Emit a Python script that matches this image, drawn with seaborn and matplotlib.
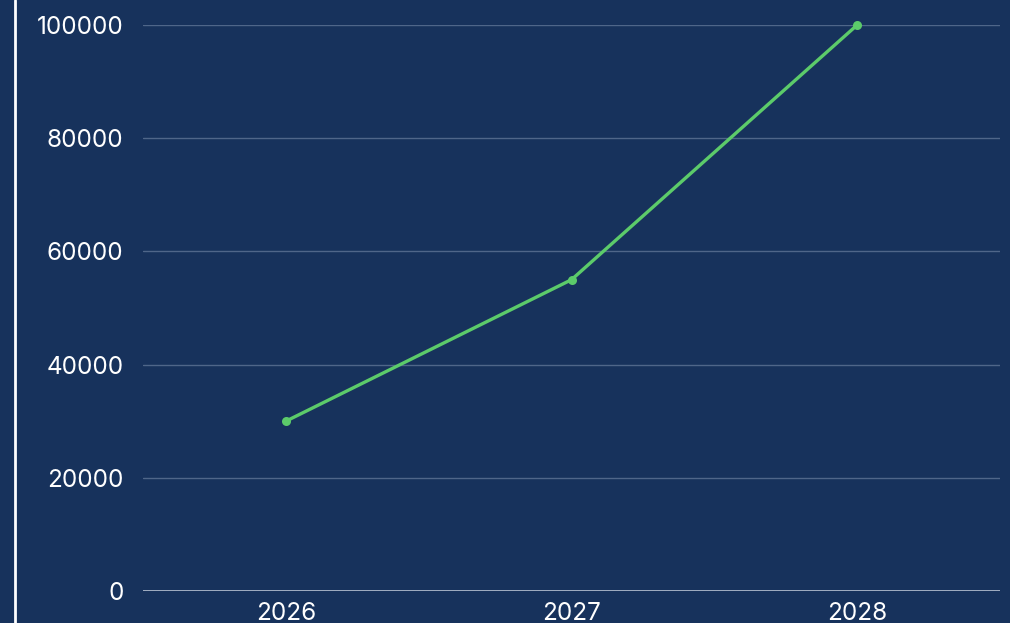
import matplotlib
matplotlib.use("Agg")
import matplotlib.pyplot as plt
from matplotlib.lines import Line2D
import seaborn as sns
import pandas as pd

## data ----------------------------------------------------------------
years = ["2026", "2027", "2028"]
values = [30000, 55000, 100000]
yticks = [0, 20000, 40000, 60000, 80000, 100000]

bg = "#17325c"
green = "#5ccb6a"

sns.set_theme(style="dark")
plt.rcParams['font.family'] = ['Inter', 'DejaVu Sans']

df = pd.DataFrame({"year": years, "value": values})

fig = plt.figure(figsize=(10.1, 6.23), dpi=100, facecolor=bg)
ax = fig.add_axes([143/1010, 1 - 591/623, 857/1010, 566/623])
ax.set_facecolor(bg)

sns.lineplot(data=df, x="year", y="value", color=green, linewidth=2.4,
             marker="o", markersize=6.5, markeredgewidth=0, ax=ax)
for ln in ax.lines:
    ln.set_clip_on(False)

ax.set_xlim(-0.5, 2.5)
ax.set_ylim(0, 100000)
ax.set_yticks(yticks)
ax.set_yticklabels([str(v) for v in yticks])
ax.yaxis.grid(True, color="#4f6689", linewidth=1)
ax.xaxis.grid(False)
ax.set_axisbelow(True)
for s in ax.spines.values():
    s.set_visible(False)
ax.axhline(0, color="#b8c2d2", linewidth=1.2, zorder=1)

ax.tick_params(axis="y", colors="white", labelsize=17.5, length=0, pad=14)
ax.tick_params(axis="x", colors="white", labelsize=17.5, length=0, pad=8)
ax.set_xlabel("")
ax.set_ylabel("")

# white vertical rule on the left
fig.add_artist(Line2D([15/1010, 15/1010], [0, 1], color="white", linewidth=2,
                      transform=fig.transFigure))

fig.savefig("out.png", dpi=100, facecolor=bg)
